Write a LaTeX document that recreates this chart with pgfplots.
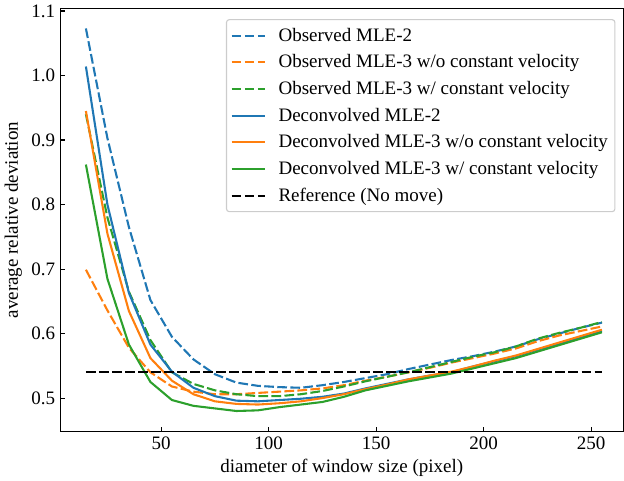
\documentclass[border=0pt]{standalone}
\usepackage{fontspec}
\setmainfont{Liberation Serif}
\usepackage{pgfplots}
\pgfplotsset{compat=1.18}
\usepackage{pgfplotstable}
\definecolor{tabblue}{HTML}{1F77B4}
\definecolor{taborange}{HTML}{FF7F0E}
\definecolor{tabgreen}{HTML}{2CA02C}
\definecolor{leggray}{HTML}{CCCCCC}

\pgfplotstableread{
x   obs2  obs3wo obs3w dec2  dec3wo dec3w
15  1.073 0.699  0.940 1.014 0.945  0.862
25  0.903 0.636  0.780 0.800 0.755  0.685
35  0.765 0.578  0.665 0.663 0.635  0.583
45  0.652 0.540  0.590 0.583 0.562  0.525
55  0.595 0.518  0.540 0.541 0.527  0.497
65  0.560 0.510  0.522 0.516 0.506  0.488
75  0.537 0.506  0.512 0.503 0.495  0.484
85  0.524 0.506  0.506 0.496 0.491  0.480
95  0.519 0.508  0.503 0.495 0.490  0.481
105 0.517 0.510  0.503 0.497 0.492  0.486
115 0.516 0.512  0.506 0.499 0.495  0.490
125 0.520 0.515  0.511 0.502 0.500  0.494
135 0.525 0.520  0.518 0.507 0.506  0.502
145 0.531 0.527  0.526 0.515 0.514  0.512
155 0.537 0.533  0.533 0.522 0.521  0.519
165 0.545 0.540  0.540 0.529 0.529  0.526
175 0.552 0.547  0.548 0.535 0.535  0.532
185 0.559 0.555  0.556 0.540 0.541  0.538
195 0.565 0.562  0.564 0.549 0.549  0.546
205 0.572 0.569  0.571 0.557 0.558  0.554
215 0.580 0.577  0.580 0.565 0.566  0.562
225 0.591 0.588  0.592 0.575 0.576  0.572
235 0.600 0.597  0.601 0.584 0.586  0.582
245 0.609 0.604  0.609 0.594 0.596  0.592
255 0.617 0.611  0.618 0.604 0.606  0.602
}\data

\begin{document}
\begin{tikzpicture}
\begin{axis}[
  scale only axis,
  width=406pt, height=305pt,
  xmin=3, xmax=265, ymin=0.448, ymax=1.104,
  axis line style={line width=0.8pt},
  tick align=inside,
  xtick pos=bottom, ytick pos=left,
  major tick length=3.5pt,
  tick style={black, line width=0.8pt},
  xtick={50,100,150,200,250},
  ytick={0.5,0.6,0.7,0.8,0.9,1.0,1.1},
  yticklabel style={/pgf/number format/.cd, fixed, fixed zerofill, precision=1},
  /pgf/number format/assume math mode=true,
  tick label style={font=\fontsize{13.7}{16}\selectfont},
  label style={font=\fontsize{13.7}{16}\selectfont},
  xlabel={diameter of window size (pixel)},
  ylabel={average relative deviation},
  every axis plot/.append style={line width=1.5pt, line join=round},
  legend image code/.code={\draw[#1] (0pt,0pt) -- (24pt,0pt);},
  legend style={
    at={(0.9858,0.9748)}, anchor=north east,
    draw=leggray, rounded corners=2pt, line width=0.8pt,
    fill=white, fill opacity=0.8, text opacity=1,
    font=\fontsize{13.7}{16}\selectfont,
    cells={anchor=west},
    inner xsep=3pt, inner ysep=4pt,
    row sep=4.2pt, column sep=7pt,
  },
]
\addplot[tabblue, dash pattern=on 7pt off 2.4pt] table[x=x,y=obs2] {\data};
\addlegendentry{Observed MLE-2}
\addplot[taborange, dash pattern=on 7pt off 2.4pt] table[x=x,y=obs3wo] {\data};
\addlegendentry{Observed MLE-3 w/o constant velocity}
\addplot[tabgreen, dash pattern=on 7pt off 2.4pt] table[x=x,y=obs3w] {\data};
\addlegendentry{Observed MLE-3 w/ constant velocity}
\addplot[tabblue] table[x=x,y=dec2] {\data};
\addlegendentry{Deconvolved MLE-2}
\addplot[taborange] table[x=x,y=dec3wo] {\data};
\addlegendentry{Deconvolved MLE-3 w/o constant velocity}
\addplot[tabgreen] table[x=x,y=dec3w] {\data};
\addlegendentry{Deconvolved MLE-3 w/ constant velocity}
\addplot[black, dash pattern=on 7pt off 2.4pt] coordinates {(15,0.541) (255,0.541)};
\addlegendentry{Reference (No move)}
\end{axis}
\end{tikzpicture}
\end{document}
